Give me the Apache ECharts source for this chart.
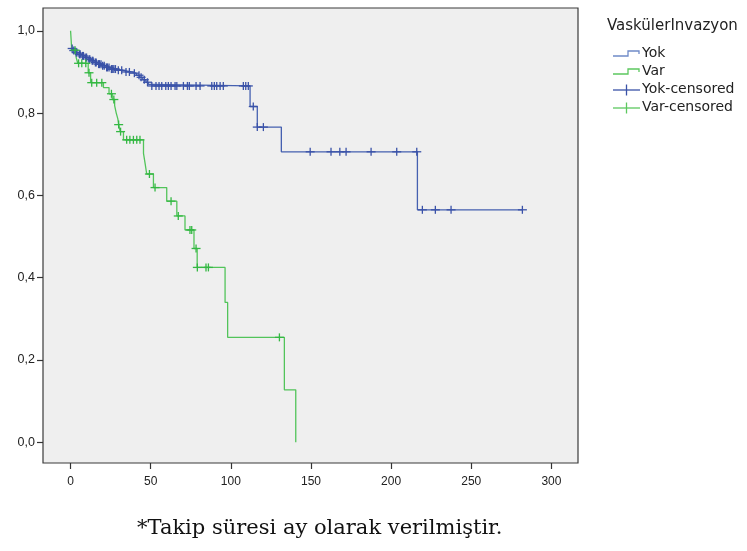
<!DOCTYPE html>
<html>
<head>
<meta charset="utf-8">
<script src="https://cdn.jsdelivr.net/npm/echarts@6/dist/echarts.min.js"></script>
<style>
  html, body { margin: 0; padding: 0; background: #ffffff; }
  #chart { width: 747px; height: 551px; }
</style>
</head>
<body>
<div id="chart"></div>
<script>
// Kaplan-Meier survival by vascular invasion (Yok / Var)
const legendTitle = 'VaskülerInvazyon';
const groupNames = ['Yok', 'Var'];
const censorNames = ['Yok-censored', 'Var-censored'];
const xTicks = [0, 50, 100, 150, 200, 250, 300];
const yTicks = [0, 0.2, 0.4, 0.6, 0.8, 1.0];
const footnote = '*Takip süresi ay olarak verilmiştir.';

// [time, survival after the event]; Yok already has events at time 0
const yokStart = [0, 0.957];
const yokEvents = [
  [1.5, 0.952], [3, 0.947], [5, 0.943], [7, 0.939], [9, 0.935],
  [11, 0.931], [13, 0.927], [15, 0.923], [17, 0.919], [19.5, 0.915], [22, 0.911],
  [25, 0.907], [29, 0.904], [33, 0.900], [38, 0.897], [41, 0.892], [43, 0.887],
  [45, 0.881], [47, 0.875], [48.5, 0.870], [50, 0.866],
  [112, 0.816], [116.5, 0.766], [131.5, 0.706], [216.4, 0.565]
];
const yokLastFollowUp = 281.9;
const yokCensored = [
  1, 2, 3.5, 4, 5.5, 6, 7.5, 8, 9.5, 10, 11.5, 12, 13.5, 14, 15.5, 16, 17.5, 18,
  19, 20, 21, 22.5, 23, 24, 25.5, 26, 27, 28, 29.8, 31.9, 34.6, 36.7, 39.8, 42.7,
  44, 46, 48,
  50.7, 53.3, 55.2, 56.9, 59.4, 61, 62.7, 65.2, 66.3, 70.4, 72.9, 74.1, 78.3, 80.8,
  88.1, 89.7, 91.2, 93.3, 95.3, 107.8, 109.3, 110.9,
  114, 116.5, 120.3,
  149.5, 162.5, 168, 171.9, 187.5, 203.5, 216,
  219.5, 227.6, 237.4, 281.9
];

const varStart = [0, 1];
const varEvents = [
  [0.75, 0.953], [3.5, 0.935], [4.5, 0.921], [11, 0.898], [12.5, 0.874],
  [20.5, 0.862], [24, 0.847], [26, 0.833], [27.5, 0.818], [28.5, 0.800],
  [29.5, 0.786], [30, 0.772], [31, 0.755], [33, 0.735],
  [45.5, 0.702], [46.5, 0.678], [47.5, 0.652], [51.7, 0.619], [60, 0.586],
  [66.3, 0.550], [71.4, 0.516], [77, 0.471], [79, 0.425],
  [96.4, 0.340], [98, 0.255], [133.4, 0.1275], [140.5, 0]
];
const varCensored = [
  2.8, 5, 7, 9.5, 11.5, 13.2, 16.3, 19.5, 25.5, 27, 30, 31.2,
  35, 37, 39.2, 41.3, 43.3, 49.2, 52.7, 62.7, 67.2, 74.5, 75.6, 78.3,
  79.1, 84.5, 86, 130.3
];

const colors = {
  yokLine: '#4560b0', varLine: '#52c45a',
  yokMark: '#3a52a8', varMark: '#34b843',
  yokIcon: '#6f8ac8', varIcon: '#5cc85f'
};

function survivalAt(start, events, t) {
  let s = start[1];
  for (const [et, es] of events) if (et <= t) s = es;
  return s;
}

function stepData(start, events, lastTime) {
  const pts = [start].concat(events);
  if (lastTime !== undefined) pts.push([lastTime, events[events.length - 1][1]]);
  return pts;
}

function censorSeries(name, times, start, events, color) {
  return {
    type: 'custom',
    name: name,
    z: 5,
    data: times.map(t => [t, survivalAt(start, events, t)]),
    encode: { x: 0, y: 1 },
    renderItem: function (params, api) {
      const p = api.coord([api.value(0), api.value(1)]);
      return {
        type: 'group',
        children: [
          { type: 'line', shape: { x1: p[0] - 4.5, y1: p[1], x2: p[0] + 4.5, y2: p[1] },
            style: { stroke: color, lineWidth: 1.3 } },
          { type: 'line', shape: { x1: p[0], y1: p[1] - 4, x2: p[0], y2: p[1] + 4 },
            style: { stroke: color, lineWidth: 1.3 } }
        ]
      };
    }
  };
}

const fmtComma = v => v.toFixed(1).replace('.', ',');

// legend block on the right
const sansFont = '"DejaVu Sans", Verdana, sans-serif';
const axisFont = "'Liberation Sans', Arial, sans-serif";
const lx = 613, ltx = 642, lys = [54, 72, 90, 108];
const legendGraphics = [
  { type: 'text', left: 607, top: 19, style: { text: legendTitle, font: '15px ' + sansFont, fill: '#222' } },
  { type: 'polyline', shape: { points: [[lx, lys[0] + 2], [lx + 15, lys[0] + 2], [lx + 15, lys[0] - 3], [lx + 26, lys[0] - 3], [lx + 26, lys[0]]] },
    style: { stroke: colors.yokIcon, lineWidth: 1.3, fill: null } },
  { type: 'polyline', shape: { points: [[lx, lys[1] + 2], [lx + 15, lys[1] + 2], [lx + 15, lys[1] - 3], [lx + 26, lys[1] - 3], [lx + 26, lys[1]]] },
    style: { stroke: colors.varIcon, lineWidth: 1.3, fill: null } },
  { type: 'line', shape: { x1: lx, y1: lys[2], x2: lx + 27, y2: lys[2] }, style: { stroke: colors.yokMark, lineWidth: 1.3 } },
  { type: 'line', shape: { x1: lx + 13.5, y1: lys[2] - 5.5, x2: lx + 13.5, y2: lys[2] + 5.5 }, style: { stroke: colors.yokMark, lineWidth: 1.3 } },
  { type: 'line', shape: { x1: lx, y1: lys[3], x2: lx + 27, y2: lys[3] }, style: { stroke: colors.varIcon, lineWidth: 1.3 } },
  { type: 'line', shape: { x1: lx + 13.5, y1: lys[3] - 5.5, x2: lx + 13.5, y2: lys[3] + 5.5 }, style: { stroke: colors.varIcon, lineWidth: 1.3 } }
];
const legendLabels = [groupNames[0], groupNames[1], censorNames[0], censorNames[1]];
legendLabels.forEach((txt, i) => {
  legendGraphics.push({ type: 'text', left: ltx, top: lys[i] - 8,
    style: { text: txt, font: '14px ' + sansFont, fill: '#222' } });
});
legendGraphics.push({ type: 'text', left: 137, top: 518,
  style: { text: footnote, font: '21px "DejaVu Serif", serif', fill: '#111' } });

const chart = echarts.init(document.getElementById('chart'), null, { renderer: 'canvas' });
chart.setOption({
  animation: false,
  backgroundColor: '#ffffff',
  grid: {
    left: 43, top: 8, width: 535, height: 455,
    show: true, backgroundColor: '#efefef', borderColor: '#3a3a3a', borderWidth: 1.2
  },
  xAxis: {
    type: 'value', min: -17.2, max: 316.6,
    axisLine: { show: false, onZero: false },
    splitLine: { show: false },
    axisTick: { show: true, customValues: xTicks, length: 6, lineStyle: { color: '#333', width: 1.2 } },
    axisLabel: { customValues: xTicks, margin: 13, color: '#222', fontSize: 12, fontFamily: axisFont }
  },
  yAxis: {
    type: 'value', min: -0.0503, max: 1.0554,
    axisLine: { show: false, onZero: false },
    splitLine: { show: false },
    axisTick: { show: true, customValues: yTicks, length: 6, lineStyle: { color: '#333', width: 1.2 } },
    axisLabel: { customValues: yTicks, margin: 8, color: '#222', fontSize: 12.5, fontFamily: axisFont, formatter: fmtComma }
  },
  graphic: legendGraphics,
  series: [
    { type: 'line', name: groupNames[0], step: 'end', showSymbol: false, z: 3,
      data: stepData(yokStart, yokEvents, yokLastFollowUp), lineStyle: { color: colors.yokLine, width: 1.3 } },
    { type: 'line', name: groupNames[1], step: 'end', showSymbol: false, z: 4,
      data: stepData(varStart, varEvents), lineStyle: { color: colors.varLine, width: 1.3 } },
    censorSeries(censorNames[0], yokCensored, yokStart, yokEvents, colors.yokMark),
    censorSeries(censorNames[1], varCensored, varStart, varEvents, colors.varMark)
  ]
});
</script>
</body>
</html>
